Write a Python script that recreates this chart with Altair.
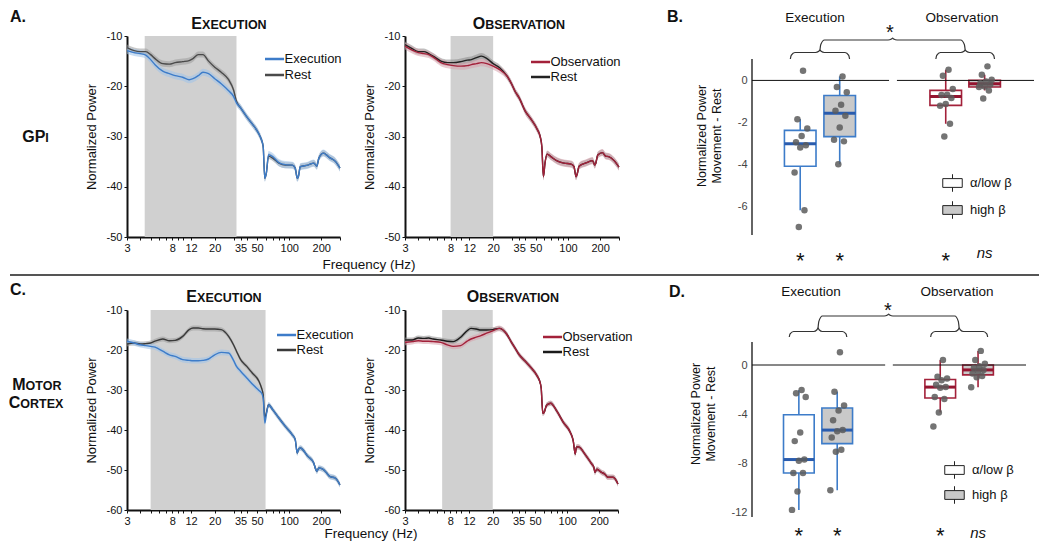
import altair as alt
import pandas as pd

FONT = "Liberation Sans"

# ---------------- spectra (frequency grid, Hz) ----------------
freqs = [3, 3.5, 4, 4.5, 5, 5.5, 6.5, 7.5, 8.5, 10, 11.5, 12.5, 14, 15.5, 17.5, 20, 23, 27, 30, 32,
         35, 40, 45, 52, 55, 57, 59, 61, 64, 70, 80, 92, 107, 114, 119, 122, 127, 150, 170, 178,
         182, 190, 210, 225, 240, 270, 300]

gpi_exec_move = [-12.9, -13.3, -13.5, -13.8, -14.7, -15.7, -17.0, -17.5, -17.9, -18.2, -18.7, -18.5, -17.9, -17.2, -17.5,
                 -18.5, -19.5, -20.9, -22.0, -23.3, -24.3, -26.1, -27.5, -29.5, -30.7, -32.0, -38.3, -37.3, -33.6, -34.0,
                 -35.2, -35.6, -35.7, -36.3, -38.3, -38.0, -36.0, -35.7, -35.3, -35.7, -35.9, -34.3, -33.3, -33.7, -34.2,
                 -34.9, -36.3]
gpi_exec_rest = [-12.3, -12.9, -13.1, -13.1, -13.7, -14.5, -15.5, -15.6, -15.3, -15.1, -14.9, -14.5, -13.7, -13.7, -15.0,
                 -16.2, -17.2, -18.7, -20.7, -23.0, -24.3, -26.1, -27.5, -29.5, -30.7, -32.0, -38.3, -37.3, -33.9, -34.3,
                 -35.3, -35.7, -35.7, -36.3, -38.3, -38.0, -36.0, -35.7, -35.3, -35.7, -35.9, -34.3, -33.3, -33.7, -34.2,
                 -34.9, -36.3]
gpi_obs_move = [-12.0, -12.8, -13.3, -13.5, -13.7, -14.2, -15.3, -15.7, -15.9, -16.0, -15.9, -15.7, -15.5, -15.3, -15.5,
                -16.0, -16.7, -18.0, -19.7, -21.0, -22.3, -25.0, -26.5, -28.7, -30.0, -32.0, -38.0, -35.3, -33.5, -34.1,
                -34.9, -35.3, -35.5, -36.0, -38.0, -37.5, -35.9, -35.2, -34.8, -35.7, -35.3, -33.7, -33.2, -33.9, -34.0,
                -34.8, -36.1]
gpi_obs_rest = [-11.7, -12.5, -13.1, -13.1, -13.5, -14.0, -15.0, -15.3, -15.3, -15.1, -14.8, -14.7, -14.3, -14.0, -14.5,
                -15.5, -16.3, -18.0, -19.7, -21.0, -22.3, -25.0, -26.5, -28.7, -30.0, -32.0, -38.0, -35.3, -33.5, -34.1,
                -34.9, -35.3, -35.5, -36.0, -38.0, -37.5, -35.9, -35.2, -34.8, -35.7, -35.3, -33.7, -33.2, -33.9, -34.0,
                -34.8, -36.1]
mc_exec_move = [-17.8, -18.25, -18.7, -18.9, -19.1, -19.3, -20.3, -21.2, -21.6, -22.4, -22.6, -22.7, -22.7, -22.6, -22.25,
                -21.2, -20.6, -20.75, -22.6, -24.1, -25.3, -27.0, -28.5, -30.1, -30.75, -32.0, -38.25, -36.2, -33.7, -34.9,
                -37.0, -39.1, -41.2, -42.4, -45.75, -44.9, -44.5, -46.6, -48.25, -49.9, -50.3, -49.5, -49.9, -50.75, -51.6,
                -52.0, -53.7]
mc_exec_rest = [-18.5, -18.25, -18.5, -18.4, -18.25, -17.8, -17.25, -17.7, -17.6, -16.6, -14.9, -14.5, -14.5, -14.7, -14.75,
                -14.75, -14.9, -16.6, -18.7, -20.3, -22.4, -24.1, -25.75, -27.8, -29.5, -31.2, -37.0, -35.75, -33.7, -34.9,
                -37.0, -39.1, -41.2, -42.4, -45.75, -44.9, -44.5, -46.6, -48.25, -49.9, -50.3, -49.5, -49.9, -50.75, -51.6,
                -52.0, -53.7]
mc_obs_move = [-18.1, -17.9, -17.7, -17.8, -17.8, -17.9, -18.1, -18.7, -19.1, -18.9, -17.8, -17.25, -16.8, -16.4, -15.8,
               -15.2, -14.6, -16.0, -18.1, -19.3, -21.0, -22.7, -24.2, -26.4, -27.7, -29.5, -35.8, -35.5, -33.8, -33.3,
               -35.3, -38.1, -40.6, -42.7, -46.0, -44.3, -44.2, -46.4, -48.5, -49.3, -50.6, -49.8, -50.6, -51.0, -51.8,
               -51.8, -53.5]
mc_obs_rest = [-17.5, -17.5, -17.0, -17.1, -17.0, -17.25, -17.5, -17.8, -17.9, -16.8, -15.2, -14.6, -14.75, -15.0, -15.0,
               -14.9, -14.6, -16.0, -18.1, -19.3, -21.0, -22.7, -24.2, -26.4, -27.7, -29.5, -35.8, -35.5, -33.8, -33.3,
               -35.3, -38.1, -40.6, -42.7, -46.0, -44.3, -44.2, -46.4, -48.5, -49.3, -50.6, -49.8, -50.6, -51.0, -51.8,
               -51.8, -53.5]

sem_move = 0.7
sem_rest = 0.6

shade_gpi_exec = [4.4, 32]
shade_gpi_obs = [8, 20]
shade_mc_exec = [5, 60]
shade_mc_obs = [6.7, 20]

freq_labels = [3, 8, 12, 20, 35, 50, 100, 200]
freq_tick_values = [3, 4, 5, 6, 7, 8, 9, 10, 12, 20, 30, 35, 40, 50, 60, 70, 80, 90, 100, 200, 300]
gpi_power_ticks = [-50, -40, -30, -20, -10]
mc_power_ticks = [-60, -50, -40, -30, -20, -10]

# ---------------- box plots (movement - rest) ----------------
conditions = ["Execution", "Execution", "Observation", "Observation"]
bands = ["α/low β", "high β", "α/low β", "high β"]
box_sig = ["*", "*", "*", "ns"]

gpi_exec_alpha = [0.46, -1.85, -2.3, -2.65, -2.95, -3.1, -3.2, -4.4, -6.2, -7.0]
gpi_exec_beta = [0.19, -0.32, -0.57, -1.16, -1.45, -1.69, -2.25, -2.83, -2.91, -4.0]
gpi_obs_alpha = [0.51, 0.22, -0.41, -0.68, -0.70, -0.84, -1.13, -1.21, -2.07, -2.68]
gpi_obs_beta = [0.67, 0.27, 0.03, -0.05, -0.13, -0.2, -0.29, -0.32, -0.48, -0.86]
mc_exec_alpha = [-2.04, -2.3, -2.6, -5.5, -6.2, -7.7, -7.8, -8.8, -8.8, -10.3, -11.8]
mc_exec_beta = [1.03, -2.17, -3.3, -3.7, -4.5, -5.3, -5.4, -5.9, -6.9, -7.07, -10.2]
mc_obs_alpha = [0.4, -0.95, -1.1, -1.25, -1.6, -1.8, -1.85, -2.6, -2.77, -3.86, -5.0]
mc_obs_beta = [1.15, 0.4, 0.1, -0.1, -0.25, -0.4, -0.5, -0.7, -0.9, -1.0, -1.82]

gpi_box_ticks = [-6, -4, -2, 0]
mc_box_ticks = [-12, -8, -4, 0]

BLUE, BLUE_BAND, BLUE_MED = "#3d7cc9", "#9fc2ea", "#2a5cae"
RED, RED_BAND, RED_MED = "#a3213a", "#d7a0ab", "#951530"
GPOS = [1.71, 3.11, 6.87, 8.25]  # layout: group centres on the 0-10 box axis

CW = {"A": .722, "B": .722, "C": .722, "E": .667, "G": .778, "I": .278, "M": .833, "N": .722,
      "O": .778, "P": .667, "R": .722, "S": .667, "T": .611, "U": .722, "V": .667, "X": .667}


def txt(s, x, y, size=13, weight="normal", align="center", baseline="middle", style="normal", color="#111"):
    return alt.Chart(pd.DataFrame({"t": [s]})).mark_text(
        font=FONT, fontSize=size, fontWeight=weight, align=align, baseline=baseline,
        fontStyle=style, color=color).encode(text="t:N", x=alt.value(x), y=alt.value(y))


def smallcaps(big, small, cx, base, bs=16, ss=12.5):
    wb = sum(CW[c] for c in big) * bs
    ws = sum(CW[c] for c in small) * ss
    x0 = cx - (wb + ws) / 2
    return [txt(big, x0, base, size=bs, weight="bold", align="left", baseline="alphabetic"),
            txt(small, x0 + wb, base, size=ss, weight="bold", align="left", baseline="alphabetic")]


def spectrum(move_name, move_vals, rest_vals, move_col, move_band, rest_col, rest_band,
             shade, ydom, yticks, w, h, leg_x, leg_y, leg_row, notes):
    rows = []
    for f, m, r in zip(freqs, move_vals, rest_vals):
        rows.append({"freq": f, "series": "Rest", "value": r, "lo": r - sem_rest, "hi": r + sem_rest})
        rows.append({"freq": f, "series": move_name, "value": m, "lo": m - sem_move, "hi": m + sem_move})
    df = pd.DataFrame(rows)
    xs = alt.Scale(type="log", domain=[3, 300], nice=False)
    ys = alt.Scale(domain=ydom, nice=False)
    dom = [move_name, "Rest"]
    lab_expr = "indexof([" + ",".join(str(v) for v in freq_labels) + "], datum.value) >= 0 ? '' + datum.value : ''"
    xaxis = alt.Axis(values=freq_tick_values, labelExpr=lab_expr, title=None, grid=False,
                     domainColor="#111", domainWidth=2, tickColor="#111", tickSize=3,
                     labelFontSize=11, labelFlush=False, labelPadding=2, labelColor="#111", labelFont=FONT,
                     labelOverlap=False)
    yaxis = alt.Axis(values=yticks, labelExpr="'' + datum.value", title="Normalized Power", titleFont=FONT,
                     titleFontSize=13, titleFontWeight="normal", titleColor="#111", titlePadding=8,
                     grid=False, domainColor="#111", domainWidth=2, tickColor="#111", tickSize=3,
                     labelFontSize=11, labelColor="#111", labelPadding=2, labelFont=FONT)
    shade_layer = alt.Chart(pd.DataFrame({"lo": [shade[0]], "hi": [shade[1]]})).mark_rect(color="#d0d0d0").encode(
        x=alt.X("lo:Q", scale=xs, axis=xaxis), x2="hi:Q", y=alt.value(0), y2=alt.value(h))
    band_layers = []
    for name, bc in [("Rest", rest_band), (move_name, move_band)]:
        band_layers.append(alt.Chart(df).transform_filter(alt.datum.series == name).mark_area(
            opacity=0.55, interpolate="monotone", color=bc).encode(
            x=alt.X("freq:Q", scale=xs, axis=xaxis),
            y=alt.Y("lo:Q", scale=ys, axis=yaxis), y2="hi:Q"))
    line_layer = alt.Chart(df).mark_line(strokeWidth=1.4, interpolate="monotone").encode(
        x=alt.X("freq:Q", scale=xs, axis=xaxis),
        y=alt.Y("value:Q", scale=ys, axis=yaxis),
        color=alt.Color("series:N", scale=alt.Scale(domain=dom, range=[move_col, rest_col]),
                        legend=alt.Legend(orient="none", legendX=leg_x, legendY=leg_y, title=None,
                                          symbolType="M-1.7,0L1.7,0", symbolSize=169, symbolStrokeWidth=2.4,
                                          labelFontSize=13, labelFont=FONT, labelOffset=3.5, padding=0,
                                          rowPadding=0, clipHeight=leg_row, labelColor="#111")))
    return alt.layer(shade_layer, *band_layers, line_layer, *notes).properties(width=w, height=h)


def brace_pts(xa, xb, y_end, y_h, y_tip, bid):
    xm = (xa + xb) / 2
    pts = [(xa, y_end), (xa + 0.03, y_h + (y_end - y_h) * 0.45), (xa + 0.16, y_h),
           (xm - 0.16, y_h), (xm - 0.04, (y_h + y_tip) / 2), (xm, y_tip),
           (xm + 0.04, (y_h + y_tip) / 2), (xm + 0.16, y_h),
           (xb - 0.16, y_h), (xb - 0.03, y_h + (y_end - y_h) * 0.45), (xb, y_end)]
    return [{"id": bid, "k": i, "x": p[0], "py": p[1]} for i, p in enumerate(pts)]


def boxpanel(groups, w, h, ydom, yticks, axis_top, brace_px, star_xy, heads, sig_base, ns_base,
             leg_x, leg_y, leg_pad, notes):
    rows = [{"gid": g, "cond": conditions[g], "band": bands[g], "value": v}
            for g, vals in enumerate(groups) for v in vals]
    df = pd.DataFrame(rows)
    unit = (ydom[1] - ydom[0]) / h
    xs = alt.Scale(domain=[0, 10], nice=False)
    ys = alt.Scale(domain=ydom, nice=False)
    pos_expr = "[" + ", ".join(str(p) for p in GPOS) + "][datum.gid]"
    base = alt.Chart(df).transform_calculate(xc=pos_expr)
    yaxis = alt.Axis(values=yticks, labelExpr="'' + datum.value", title=["Normalized Power", "Movement - Rest"],
                     titleFont=FONT, titleFontSize=12.5, titleFontWeight="normal", titleColor="#111",
                     titlePadding=14, titleLineHeight=15, domain=False, ticks=False, labelPadding=5,
                     labelColor="#444", labelFontSize=11, labelFont=FONT, grid=False)
    stroke_enc = alt.Stroke("cond:N", scale=alt.Scale(domain=["Execution", "Observation"], range=[BLUE, RED]),
                            legend=None)
    whisk = base.transform_joinaggregate(q1="q1(value)", q3="q3(value)", groupby=["gid"]).transform_calculate(
        lf="datum.q1 - 1.5*(datum.q3 - datum.q1)", uf="datum.q3 + 1.5*(datum.q3 - datum.q1)").transform_filter(
        "datum.value >= datum.lf && datum.value <= datum.uf").transform_aggregate(
        lo="min(value)", hi="max(value)", groupby=["gid", "cond", "xc"]).mark_rule(strokeWidth=1.6).encode(
        x=alt.X("xc:Q", scale=xs, axis=None), y=alt.Y("lo:Q", scale=ys, axis=yaxis), y2="hi:Q", stroke=stroke_enc)
    stats = base.transform_aggregate(q1="q1(value)", q3="q3(value)", med="median(value)",
                                     groupby=["gid", "cond", "band", "xc"]).transform_calculate(
        xl="datum.xc - 0.56", xr="datum.xc + 0.56")
    boxes = stats.mark_rect(strokeWidth=1.6).encode(
        x=alt.X("xl:Q", scale=xs, axis=None), x2="xr:Q",
        y=alt.Y("q1:Q", scale=ys, axis=yaxis), y2="q3:Q",
        stroke=stroke_enc,
        fill=alt.Fill("band:N", scale=alt.Scale(domain=["α/low β", "high β"], range=["white", "#c9c9c9"]),
                      legend=alt.Legend(orient="none", legendX=leg_x, legendY=leg_y, title=None,
                                        symbolType="M-1,-0.45L1,-0.45L1,0.45L-1,0.45Z M0,-0.45L0,-0.9 M0,0.45L0,0.9",
                                        symbolSize=380, symbolStrokeColor="#222", symbolStrokeWidth=1,
                                        symbolOpacity=1, labelFontSize=13, labelFont=FONT, labelOffset=7,
                                        padding=0, rowPadding=leg_pad, labelColor="#111")))
    meds = stats.mark_rule(strokeWidth=3).encode(
        x=alt.X("xl:Q", scale=xs, axis=None), x2="xr:Q", y=alt.Y("med:Q", scale=ys, axis=yaxis),
        color=alt.Color("cond:N", scale=alt.Scale(domain=["Execution", "Observation"], range=[BLUE_MED, RED_MED]),
                        legend=None))
    zero = alt.Chart(pd.DataFrame({"a": [0, 5.14], "b": [4.86, 10]})).mark_rule(color="#111", strokeWidth=1).encode(
        x=alt.X("a:Q", scale=xs, axis=None), x2="b:Q", y=alt.datum(0))
    axis_line = alt.Chart(pd.DataFrame({"a": [0]})).mark_rule(color="#111", strokeWidth=1.3).encode(
        x=alt.value(0), y=alt.datum(ydom[0]), y2=alt.datum(axis_top))
    pts = base.transform_window(rn="row_number()", groupby=["gid"]).transform_calculate(
        xj="datum.xc + ((datum.rn * 7) % 11 - 5) * 0.05").mark_circle(size=42, color="#5c5c5c", opacity=0.85).encode(
        x=alt.X("xj:Q", scale=xs, axis=None), y=alt.Y("value:Q", scale=ys, axis=yaxis))
    s_end, s_h, s_tip, b_h, b_tip = brace_px
    bl = []
    bl += brace_pts(1.36, 3.46, s_end, s_h, s_tip, "e")
    bl += brace_pts(6.52, 8.60, s_end, s_h, s_tip, "o")
    bl += brace_pts(2.41, 7.56, s_tip, b_h, b_tip, "b")
    bdf = pd.DataFrame(bl)
    bdf["y"] = ydom[1] - bdf["py"] * unit
    braces = alt.Chart(bdf).mark_line(color="#333", strokeWidth=1.2, interpolate="monotone").encode(
        x=alt.X("x:Q", scale=xs, axis=None), y=alt.Y("y:Q", scale=ys, axis=yaxis), detail="id:N", order="k:Q")
    ann = [txt("*", star_xy[0], star_xy[1], size=20, baseline="middle")]
    ann += [txt(s, x, heads[2], size=13.5, baseline="alphabetic") for s, x in
            [("Execution", heads[0]), ("Observation", heads[1])]]
    for g in range(4):
        px = GPOS[g] * w / 10
        if box_sig[g] == "ns":
            ann.append(txt("ns", px, ns_base, size=15, style="italic", baseline="alphabetic"))
        else:
            ann.append(txt("*", px, sig_base, size=22, baseline="alphabetic"))
    return alt.layer(whisk, boxes, meds, zero, axis_line, pts, braces, *ann, *notes).properties(width=w, height=h)


def spacer():
    return alt.Chart(pd.DataFrame({"a": [0]})).mark_point(opacity=0).encode(
        x=alt.value(0), y=alt.value(0)).properties(width=3, height=1)


RES = dict(x="independent", y="independent", color="independent", fill="independent", stroke="independent")

# ---------- row 1 : GPi ----------
A_exec = spectrum("Execution", gpi_exec_move, gpi_exec_rest, BLUE, BLUE_BAND, "#4a4a4a", "#9a9a9a",
                  shade_gpi_exec, [-50, -10], gpi_power_ticks, 213, 201, 138, 15, 16,
                  [txt("A.", -117, -14.3, size=16, weight="bold", align="left", baseline="alphabetic")]
                  + smallcaps("E", "XECUTION", 102, -6.7)
                  + smallcaps("GP", "I", -91.5, 105.7))
A_obs = spectrum("Observation", gpi_obs_move, gpi_obs_rest, RED, RED_BAND, "#222222", "#8a8a8a",
                 shade_gpi_obs, [-50, -10], gpi_power_ticks, 214, 201, 126, 18.5, 15,
                 smallcaps("O", "BSERVATION", 115, -6.7)
                 + [txt("Frequency (Hz)", -36, 229, size=13.5)])
B_box = boxpanel([gpi_exec_alpha, gpi_exec_beta, gpi_obs_alpha, gpi_obs_beta], 282, 199, [-7.38, 2.12],
                 gpi_box_ticks, 1.02, (23, 16.5, 14, 4, 2), (138, -3), (63, 210, -14.3), 232, 222.3,
                 190, 136.5, 4,
                 [txt("B.", -85, -14.3, size=16, weight="bold", align="left", baseline="alphabetic")])

# ---------- row 2 : Motor cortex ----------
C_exec = spectrum("Execution", mc_exec_move, mc_exec_rest, BLUE, BLUE_BAND, "#3a3a3a", "#9a9a9a",
                  shade_mc_exec, [-60, -10], mc_power_ticks, 213, 200, 150, 17.5, 15,
                  [txt("C.", -117, -15, size=16, weight="bold", align="left", baseline="alphabetic")]
                  + smallcaps("E", "XECUTION", 97, -8.3)
                  + smallcaps("M", "OTOR", -90, 80)
                  + smallcaps("C", "ORTEX", -91, 98.3)
                  + [alt.Chart(pd.DataFrame({"a": [0]})).mark_rule(color="#555", strokeWidth=2).encode(
                      x=alt.value(-117), x2=alt.value(912), y=alt.value(-35))])
D_obs = spectrum("Observation", mc_obs_move, mc_obs_rest, RED, RED_BAND, "#1a1a1a", "#8a8a8a",
                 shade_mc_obs, [-60, -10], mc_power_ticks, 213, 200, 138, 19.5, 15,
                 smallcaps("O", "BSERVATION", 109, -8.3)
                 + [txt("Frequency (Hz)", -34, 224, size=13.5)])
D_box = boxpanel([mc_exec_alpha, mc_exec_beta, mc_obs_alpha, mc_obs_beta], 274, 207, [-12.38, 4.48],
                 mc_box_ticks, 1.87, (27, 21.5, 18, 6, 4), (136, 1), (59, 205, -14.3), 233, 228.3,
                 192, 149.5, 2,
                 [txt("D.", -83, -13.3, size=16, weight="bold", align="left", baseline="alphabetic")])

chart = alt.concat(A_exec, A_obs, spacer(), B_box, C_exec, D_obs, spacer(), D_box,
                   columns=4, spacing={"row": 73, "column": 65}, bounds="flush", align="each").resolve_scale(
    **RES).properties(padding=0, background="white").configure(font=FONT).configure_view(
    stroke="transparent", strokeWidth=0)

chart.save("out.html", embed_options={"renderer": "svg", "actions": False})
